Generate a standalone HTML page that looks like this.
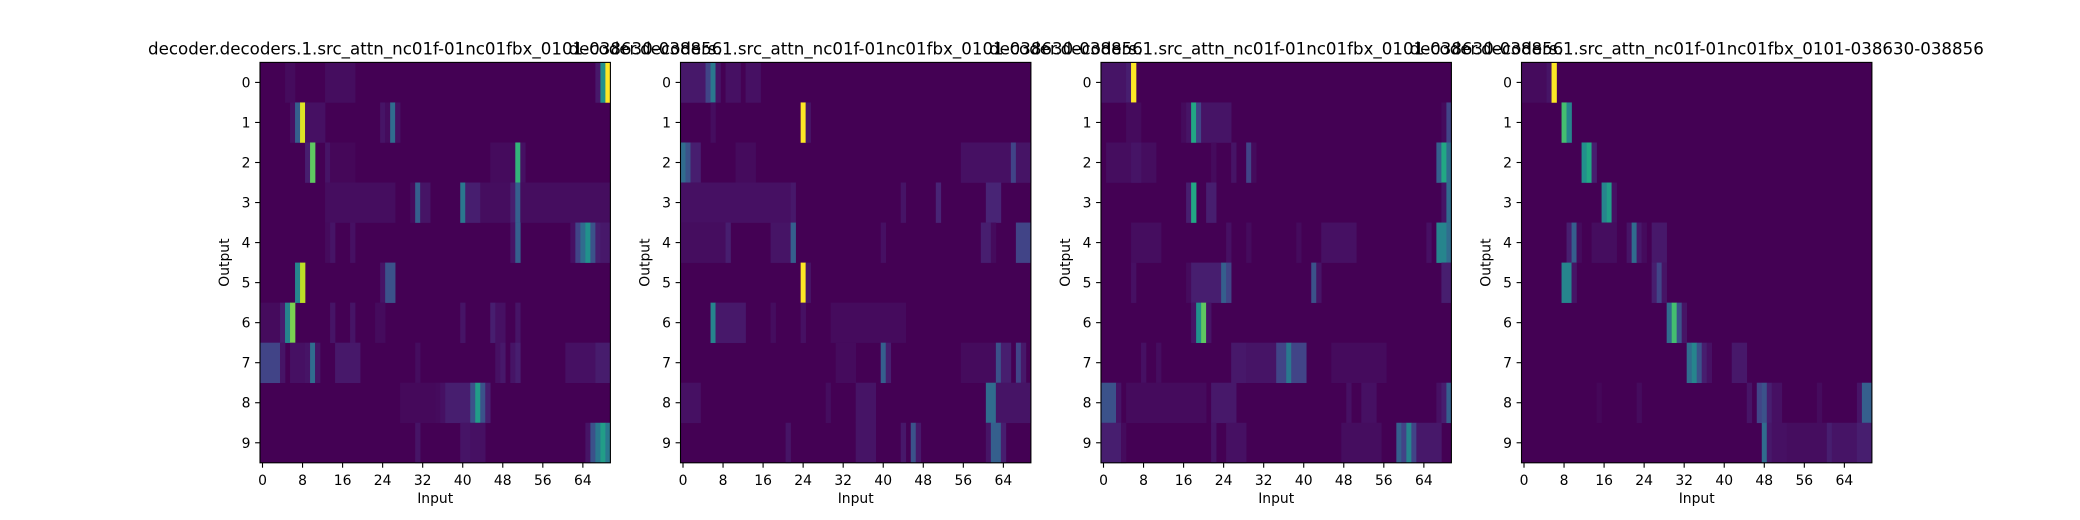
<!DOCTYPE html>
<html><head><meta charset="utf-8"><style>
html,body{margin:0;padding:0;background:#fff;}
svg{display:block;font-family:"DejaVu Sans","Liberation Sans",sans-serif;}
</style></head><body>
<svg id="fig" width="2080" height="520" viewBox="0 0 2080 520" xmlns="http://www.w3.org/2000/svg"></svg>
<script>
// Data: [row, colStart, colEnd, value] ranges (value 0..1), everything else 0
const outputs = [0,1,2,3,4,5,6,7,8,9];
const xTicks = [0,8,16,24,32,40,48,56,64];
const nCols = 70;
const title = "decoder.decoders.1.src_attn_nc01f-01nc01fbx_0101-038630-038856";
const head1 = [
[0,5,6,0.05],[0,13,18,0.06],[0,67,67,0.12],[0,68,68,0.5],[0,69,69,1.0],
[1,6,6,0.08],[1,7,7,0.3],[1,8,8,0.95],[1,9,12,0.08],[1,24,24,0.1],[1,25,25,0.05],[1,26,26,0.35],[1,27,27,0.08],
[2,9,9,0.15],[2,10,10,0.75],[2,13,13,0.1],[2,14,18,0.03],[2,46,50,0.05],[2,51,51,0.65],[2,52,52,0.08],
[3,13,26,0.06],[3,30,30,0.05],[3,31,31,0.3],[3,32,33,0.1],[3,40,40,0.4],[3,41,43,0.15],[3,44,49,0.06],[3,50,50,0.15],[3,51,51,0.3],[3,52,69,0.06],
[4,13,13,0.05],[4,14,14,0.1],[4,18,18,0.08],[4,50,50,0.1],[4,51,51,0.3],[4,62,62,0.08],[4,63,63,0.2],[4,64,64,0.35],[4,65,65,0.5],[4,66,66,0.25],[4,67,67,0.15],[4,68,69,0.12],
[5,7,7,0.45],[5,8,8,0.9],[5,24,24,0.1],[5,25,26,0.25],
[6,0,3,0.05],[6,4,4,0.15],[6,5,5,0.45],[6,6,6,0.8],[6,14,14,0.1],[6,18,18,0.1],[6,23,24,0.05],[6,40,40,0.1],[6,46,46,0.15],[6,47,48,0.08],[6,51,51,0.1],
[7,0,3,0.2],[7,4,4,0.1],[7,6,8,0.08],[7,9,9,0.1],[7,10,10,0.35],[7,11,11,0.1],[7,15,19,0.12],[7,31,31,0.06],[7,47,47,0.08],[7,48,48,0.12],[7,50,50,0.1],[7,51,51,0.15],[7,61,66,0.08],[7,67,69,0.14],
[8,28,34,0.04],[8,35,35,0.05],[8,36,36,0.08],[8,37,41,0.15],[8,42,42,0.25],[8,43,43,0.55],[8,44,44,0.25],[8,45,45,0.15],
[9,31,31,0.1],[9,40,41,0.1],[9,42,44,0.08],[9,65,65,0.1],[9,66,66,0.25],[9,67,67,0.4],[9,68,68,0.55],[9,69,69,0.4]
];
const head2 = [
[0,0,4,0.12],[0,5,5,0.2],[0,6,6,0.4],[0,7,7,0.1],[0,9,11,0.08],[0,13,15,0.08],
[1,6,6,0.06],[1,24,24,1.0],[1,25,25,0.1],
[2,0,0,0.35],[2,1,1,0.25],[2,2,3,0.15],[2,11,14,0.05],[2,56,65,0.08],[2,66,66,0.2],[2,67,69,0.1],
[3,0,21,0.08],[3,22,22,0.12],[3,44,44,0.1],[3,51,51,0.18],[3,61,63,0.18],
[4,0,8,0.06],[4,9,9,0.15],[4,18,21,0.1],[4,22,22,0.3],[4,40,40,0.08],[4,60,61,0.15],[4,62,62,0.05],[4,67,69,0.2],
[5,24,24,1.0],[5,25,25,0.1],
[6,6,6,0.45],[6,7,12,0.12],[6,18,18,0.06],[6,24,24,0.08],[6,30,44,0.05],
[7,31,34,0.05],[7,40,40,0.3],[7,41,41,0.15],[7,56,62,0.05],[7,63,63,0.25],[7,64,65,0.15],[7,67,67,0.2],[7,68,68,0.12],
[8,0,3,0.08],[8,29,29,0.06],[8,35,38,0.1],[8,61,62,0.35],[8,63,69,0.1],
[9,21,21,0.1],[9,35,38,0.1],[9,44,44,0.12],[9,46,46,0.25],[9,47,47,0.12],[9,61,61,0.1],[9,62,63,0.3],[9,64,64,0.15]
];
const head3 = [
[0,0,4,0.1],[0,5,5,0.15],[0,6,6,1.0],
[1,5,7,0.05],[1,16,16,0.05],[1,17,17,0.1],[1,18,18,0.6],[1,19,19,0.2],[1,20,25,0.1],[1,68,68,0.05],[1,69,69,0.2],
[2,1,10,0.06],[2,6,7,0.1],[2,22,22,0.05],[2,26,26,0.1],[2,29,29,0.2],[2,30,30,0.05],[2,67,67,0.3],[2,68,68,0.6],[2,69,69,0.35],
[3,17,17,0.15],[3,18,18,0.6],[3,21,22,0.15],[3,68,68,0.1],[3,69,69,0.35],
[4,6,11,0.06],[4,25,25,0.08],[4,29,29,0.05],[4,39,39,0.05],[4,44,50,0.08],[4,65,65,0.08],[4,67,68,0.45],[4,69,69,0.35],
[5,6,6,0.08],[5,17,17,0.05],[5,18,23,0.15],[5,24,24,0.3],[5,25,25,0.2],[5,42,42,0.25],[5,43,43,0.1],[5,68,69,0.15],
[6,18,18,0.1],[6,19,19,0.5],[6,20,20,0.75],[6,21,21,0.1],
[7,8,8,0.08],[7,11,11,0.06],[7,26,28,0.12],[7,29,34,0.1],[7,35,36,0.2],[7,37,37,0.4],[7,38,40,0.2],[7,46,56,0.05],
[8,0,2,0.25],[8,3,3,0.1],[8,5,20,0.05],[8,22,26,0.12],[8,49,49,0.08],[8,52,54,0.08],[8,67,67,0.08],[8,68,68,0.15],[8,69,69,0.3],
[9,0,3,0.15],[9,4,4,0.05],[9,22,22,0.1],[9,25,28,0.08],[9,48,55,0.06],[9,59,59,0.3],[9,60,60,0.2],[9,61,61,0.45],[9,62,62,0.2],[9,63,67,0.12]
];
const head4 = [
[0,0,4,0.05],[0,5,5,0.1],[0,6,6,1.0],
[1,8,8,0.7],[1,9,9,0.45],
[2,12,12,0.5],[2,13,13,0.6],[2,14,14,0.15],
[3,16,16,0.45],[3,17,17,0.55],[3,18,18,0.08],
[4,9,9,0.15],[4,10,10,0.3],[4,11,11,0.05],[4,14,18,0.06],[4,21,21,0.1],[4,22,22,0.35],[4,23,23,0.12],[4,24,24,0.05],[4,26,28,0.12],
[5,8,9,0.45],[5,10,10,0.1],[5,26,26,0.15],[5,27,27,0.2],[5,28,28,0.1],
[6,29,29,0.35],[6,30,30,0.7],[6,31,31,0.25],[6,32,32,0.1],
[7,33,33,0.35],[7,34,34,0.45],[7,35,35,0.25],[7,36,36,0.15],[7,37,37,0.08],[7,42,44,0.12],
[8,15,15,0.03],[8,23,23,0.05],[8,45,45,0.1],[8,47,47,0.2],[8,48,48,0.25],[8,49,49,0.15],[8,50,51,0.08],[8,59,59,0.05],[8,67,67,0.1],[8,68,69,0.3],
[9,48,48,0.35],[9,49,49,0.12],[9,50,52,0.08],[9,53,60,0.06],[9,61,61,0.15],[9,62,66,0.1],[9,67,69,0.15]
];
const heads = [head1, head2, head3, head4];

const VIR = ["#440154","#482475","#414487","#355f8d","#2a788e","#21918c","#22a884","#44bf70","#7ad151","#bddf26","#fde725"];
function hex2rgb(h){return [1,3,5].map(i=>parseInt(h.substr(i,2),16));}
function viridis(v){
  v=Math.max(0,Math.min(1,v));
  if(v<0.2) v=v*0.55;
  const p=v*10,i=Math.min(9,Math.floor(p)),f=p-i;
  const a=hex2rgb(VIR[i]),b=hex2rgb(VIR[i+1]);
  return "rgb("+a.map((x,k)=>Math.round(x+(b[k]-x)*f)).join(",")+")";
}
const NS="http://www.w3.org/2000/svg";
const svg=document.getElementById("fig");
function mk(tag,attrs,parent){const e=document.createElementNS(NS,tag);for(const k in attrs)e.setAttribute(k,attrs[k]);(parent||svg).appendChild(e);return e;}

const axW=350.4, axH=400.4, axTop=62.4, lefts=[260,680.5,1101,1521.5];
heads.forEach((data,p)=>{
  const L=lefts[p], cw=axW/nCols, rh=axH/outputs.length;
  const xPos=c=>L+c*cw, yPos=r=>axTop+r*rh;
  const g=mk("g",{});
  
  
  const bg=mk("rect",{x:L,y:axTop,width:axW,height:axH,fill:viridis(0)},g);
  
  
  data.forEach(d=>{
    const [r,c0,c1,v]=d;
    const cell=mk("rect",{x:xPos(c0),y:yPos(r),width:(c1-c0+1)*cw+0.3,height:rh+0.3,fill:viridis(v)},g);
    
    
  });
  const fr=mk("rect",{x:L,y:axTop,width:axW,height:axH,fill:"none",stroke:"#000","stroke-width":1.1},g);
  
  
  outputs.forEach(r=>{
    const y=yPos(r)+rh/2;
    mk("line",{x1:L,x2:L-4.9,y1:y,y2:y,stroke:"#000","stroke-width":1.1},g);
    const t=mk("text",{x:L-9.5,y:y+5,"text-anchor":"end","font-size":13.9,fill:"#000"},g);
    t.textContent=String(r);
    
    
  });
  xTicks.forEach(c=>{
    const x=xPos(c)+cw/2;
    mk("line",{x1:x,x2:x,y1:axTop+axH,y2:axTop+axH+4.9,stroke:"#000","stroke-width":1.1},g);
    const t=mk("text",{x:x,y:axTop+axH+22,"text-anchor":"middle","font-size":13.9,fill:"#000"},g);
    t.textContent=String(c);
    
    
  });
  const xl=mk("text",{x:L+axW/2,y:axTop+axH+40,"text-anchor":"middle","font-size":13.9,fill:"#000"},g);
  xl.textContent="Input";
  
  
  const yl=mk("text",{x:0,y:0,"text-anchor":"middle","font-size":13.9,fill:"#000",transform:"translate("+(L-31)+","+(axTop+axH/2)+") rotate(-90)"},g);
  yl.textContent="Output";
  
  
  const tt=mk("text",{x:L+axW/2,y:axTop-8,"text-anchor":"middle","font-size":16.67,fill:"#000"},g);
  tt.textContent=title;
  
  
});
</script>
</body></html>
